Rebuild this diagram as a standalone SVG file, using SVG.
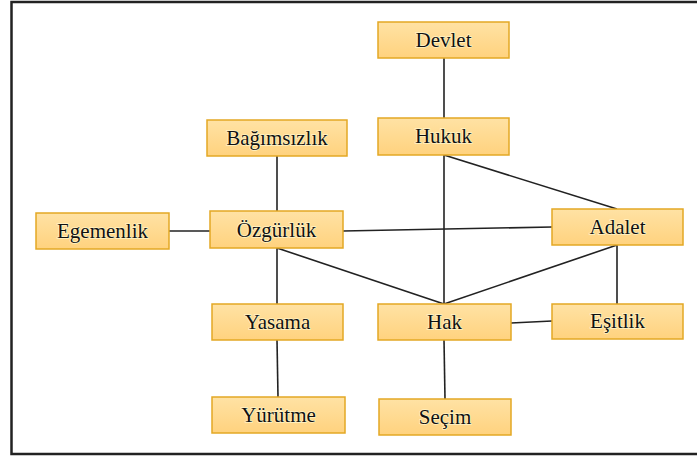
<svg xmlns="http://www.w3.org/2000/svg" width="697" height="456" viewBox="0 0 697 456">
<defs>
<linearGradient id="g" x1="0" y1="0" x2="0" y2="1">
<stop offset="0" stop-color="#FFE2A4"/>
<stop offset="1" stop-color="#FFD27E"/>
</linearGradient>
</defs>
<style>
.n rect{fill:url(#g);stroke:#E3A824;stroke-width:1.5}
.n text{font-family:"Liberation Serif","Times New Roman",serif;font-size:21px;fill:#111;text-anchor:middle;stroke:#FFF3C4;stroke-width:1.5;paint-order:stroke}
#edges line{stroke:#222;stroke-width:1.6}
</style>
<rect width="697" height="456" fill="#fff"/>
<path d="M700 2 H11.5 V454 H700" fill="none" stroke="#222" stroke-width="2.5"/>
<g id="edges">
<line x1="444" y1="58" x2="444" y2="118"/>
<line x1="444" y1="155" x2="617" y2="209"/>
<line x1="444" y1="155" x2="444" y2="304"/>
<line x1="277" y1="156" x2="277" y2="211"/>
<line x1="169" y1="231" x2="210" y2="231"/>
<line x1="343" y1="231" x2="552" y2="227"/>
<line x1="277" y1="248" x2="444" y2="304"/>
<line x1="277" y1="248" x2="277" y2="304"/>
<line x1="277" y1="340" x2="278" y2="397"/>
<line x1="617" y1="245" x2="444" y2="304"/>
<line x1="617" y1="245" x2="617" y2="304"/>
<line x1="511" y1="323" x2="552" y2="321"/>
<line x1="444" y1="340" x2="445" y2="399"/>
</g>
<g id="devlet" class="n"><rect x="378" y="22" width="131" height="36"/><text x="443.5" y="47">Devlet</text></g>
<g id="hukuk" class="n"><rect x="378" y="118" width="131" height="37"/><text x="443.5" y="143">Hukuk</text></g>
<g id="bagimsizlik" class="n"><rect x="207" y="120" width="140" height="36"/><text x="277" y="145">Bağımsızlık</text></g>
<g id="egemenlik" class="n"><rect x="36" y="213" width="133" height="36"/><text x="102.5" y="238">Egemenlik</text></g>
<g id="ozgurluk" class="n"><rect x="210" y="211" width="133" height="37"/><text x="276.5" y="237">Özgürlük</text></g>
<g id="adalet" class="n"><rect x="552" y="209" width="131" height="36"/><text x="617.5" y="234">Adalet</text></g>
<g id="yasama" class="n"><rect x="212" y="304" width="131" height="36"/><text x="277.5" y="329">Yasama</text></g>
<g id="hak" class="n"><rect x="378" y="304" width="133" height="36"/><text x="444.5" y="329">Hak</text></g>
<g id="esitlik" class="n"><rect x="552" y="304" width="131" height="35"/><text x="617.5" y="328">Eşitlik</text></g>
<g id="yurutme" class="n"><rect x="212" y="397" width="133" height="36"/><text x="278.5" y="422">Yürütme</text></g>
<g id="secim" class="n"><rect x="379" y="399" width="132" height="36"/><text x="445" y="424">Seçim</text></g>
</svg>
